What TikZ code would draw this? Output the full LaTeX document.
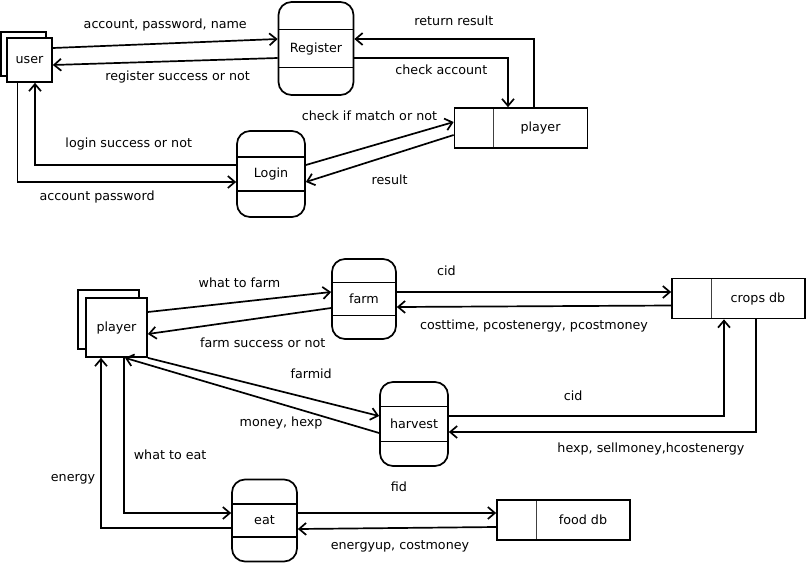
\documentclass[tikz,border=0pt]{standalone}
\usepackage{fontspec}
\setmainfont{DejaVu Sans}
\usetikzlibrary{arrows.meta}
\usetikzlibrary{shadows}
\tikzstyle{flow}=[line width=1.7pt, -{Straight Barb[length=7pt, width=12pt]}]
\tikzstyle{flow label}=[inner sep=0pt, text height=9.6pt, text depth=2.8pt]
\tikzstyle{store}=[draw, line width=1.7pt, minimum width=133pt, minimum height=40pt, inner sep=0pt,
  execute at begin node={\hspace*{39pt}},
  path picture={\draw[line width=0.9pt, black!75] ([xshift=39pt]path picture bounding box.north west) -- ([xshift=39pt]path picture bounding box.south west);}]
\tikzset{
  entity/.style={draw, fill=white, line width=1.7pt, inner sep=0pt, copy shadow={shadow xshift=-#1, shadow yshift=#1}},
  process/.style={draw, line width=1.7pt, rounded corners=13pt, inner sep=0pt,
    path picture={\draw[line width=1.7pt] ([yshift=#1]path picture bounding box.west) -- ([yshift=#1]path picture bounding box.east)
      ([yshift=-#1]path picture bounding box.west) -- ([yshift=-#1]path picture bounding box.east);}}
}

\begin{document}
\begin{tikzpicture}[x=1pt, y=-1pt, font=\fontsize{12.7pt}{15pt}\selectfont]
  \useasboundingbox (0,0) rectangle (806,563);

  % login and register
  \node[entity=6pt, minimum width=45pt, minimum height=44pt] (user) at (29.5,60) {user};
  \node[process=19pt, minimum width=75pt, minimum height=93pt] (reg) at (316,48.5) {Register};
  \node[process=17pt, minimum width=68pt, minimum height=86pt] (login) at (271,174) {Login};
  \node[store] (pstore) at (521,128) {player};

  \draw[flow] (user.east |- 0,48) -- node[flow label, above=11.3pt] {account, password, name} (reg.west |- 0,39);
  \draw[flow] (reg.west |- 0,58) -- node[flow label, pos=0.445, below=8.8pt] {register success or not} (user.east |- 0,65);
  \draw[flow] (login.west |- 0,165) -| node[flow label, pos=0.267, above=13.8pt] {login success or not} (35,0 |- user.south);
  \draw[flow] (17.5,0 |- user.south) |- node[flow label, pos=0.682, below=7.8pt] {account password} (login.west |- 0,182);
  \draw[flow] (login.east |- 0,165) -- node[flow label, pos=0.88, anchor=south east, xshift=2pt, yshift=3pt] {check if match or not} (pstore.west |- 0,122);
  \draw[flow] (pstore.west |- 0,135) -- node[flow label, pos=0.433, below=18.5pt] {result} (login.east |- 0,182);
  \draw[flow] (reg.east |- 0,58) -| node[flow label, pos=0.283, below=6.5pt] {check account} (508,0 |- pstore.north);
  \draw[flow] (534,0 |- pstore.north) |- node[flow label, pos=0.723, above=10.1pt] {return result} (reg.east |- 0,39);

  % farming and eating
  \node[entity=8pt, minimum width=61pt, minimum height=59pt] (player) at (116.5,327.5) {player};
  \node[process=16.5pt, minimum width=64pt, minimum height=80pt] (farm) at (364,299) {farm};
  \node[process=17.5pt, minimum width=68pt, minimum height=84pt] (harv) at (414,424) {harvest};
  \node[store] (crops) at (738.5,298.5) {crops db};
  \node[process=16.5pt, minimum width=65pt, minimum height=82pt] (eat) at (264.5,520.5) {eat};
  \node[store] (food) at (563.5,520) {food db};

  \draw[flow] (player.east |- 0,312) -- node[flow label, above=10.8pt] {what to farm} (farm.west |- 0,292);
  \draw[flow] (farm.west |- 0,308) -- node[flow label, pos=0.373, below=19.8pt] {farm success or not} (player.east |- 0,334);
  \draw[flow] (player.south east) -- node[flow label, pos=0.706, above=16.4pt] {farmid} (harv.west |- 0,416);
  \draw[flow] (harv.west |- 0,433) -- node[flow label, pos=0.386, below=12.5pt] {money, hexp} (125,0 |- player.south);
  \draw[flow] (farm.east |- 0,292) -- node[flow label, pos=0.181, above=12.8pt] {cid} (crops.west |- 0,292);
  \draw[flow] (crops.west |- 0,305.5) -- node[flow label, pos=0.5, below=12.5pt] {costtime, pcostenergy, pcostmoney} (farm.east |- 0,307);
  \draw[flow] (harv.east |- 0,416) -| node[flow label, pos=0.226, above=11.8pt] {cid} (724,0 |- crops.south);
  \draw[flow] (756,0 |- crops.south) |- node[flow label, pos=0.671, below=10.5pt] {hexp, sellmoney,hcostenergy} (harv.east |- 0,432);
  \draw[flow] (124,0 |- player.south) |- node[flow label, pos=0.316, right=9pt] {what to eat} (eat.west |- 0,513);
  \draw[flow] (eat.west |- 0,528) -| node[flow label, pos=0.647, left=5pt] {energy} (101,0 |- player.south);
  \draw[flow] (eat.east |- 0,513) -- node[flow label, pos=0.51, above=17.5pt] {fid} (food.west |- 0,513);
  \draw[flow] (food.west |- 0,527) -- node[flow label, pos=0.485, below=10.8pt] {energyup, costmoney} (eat.east |- 0,529);
\end{tikzpicture}
\end{document}
